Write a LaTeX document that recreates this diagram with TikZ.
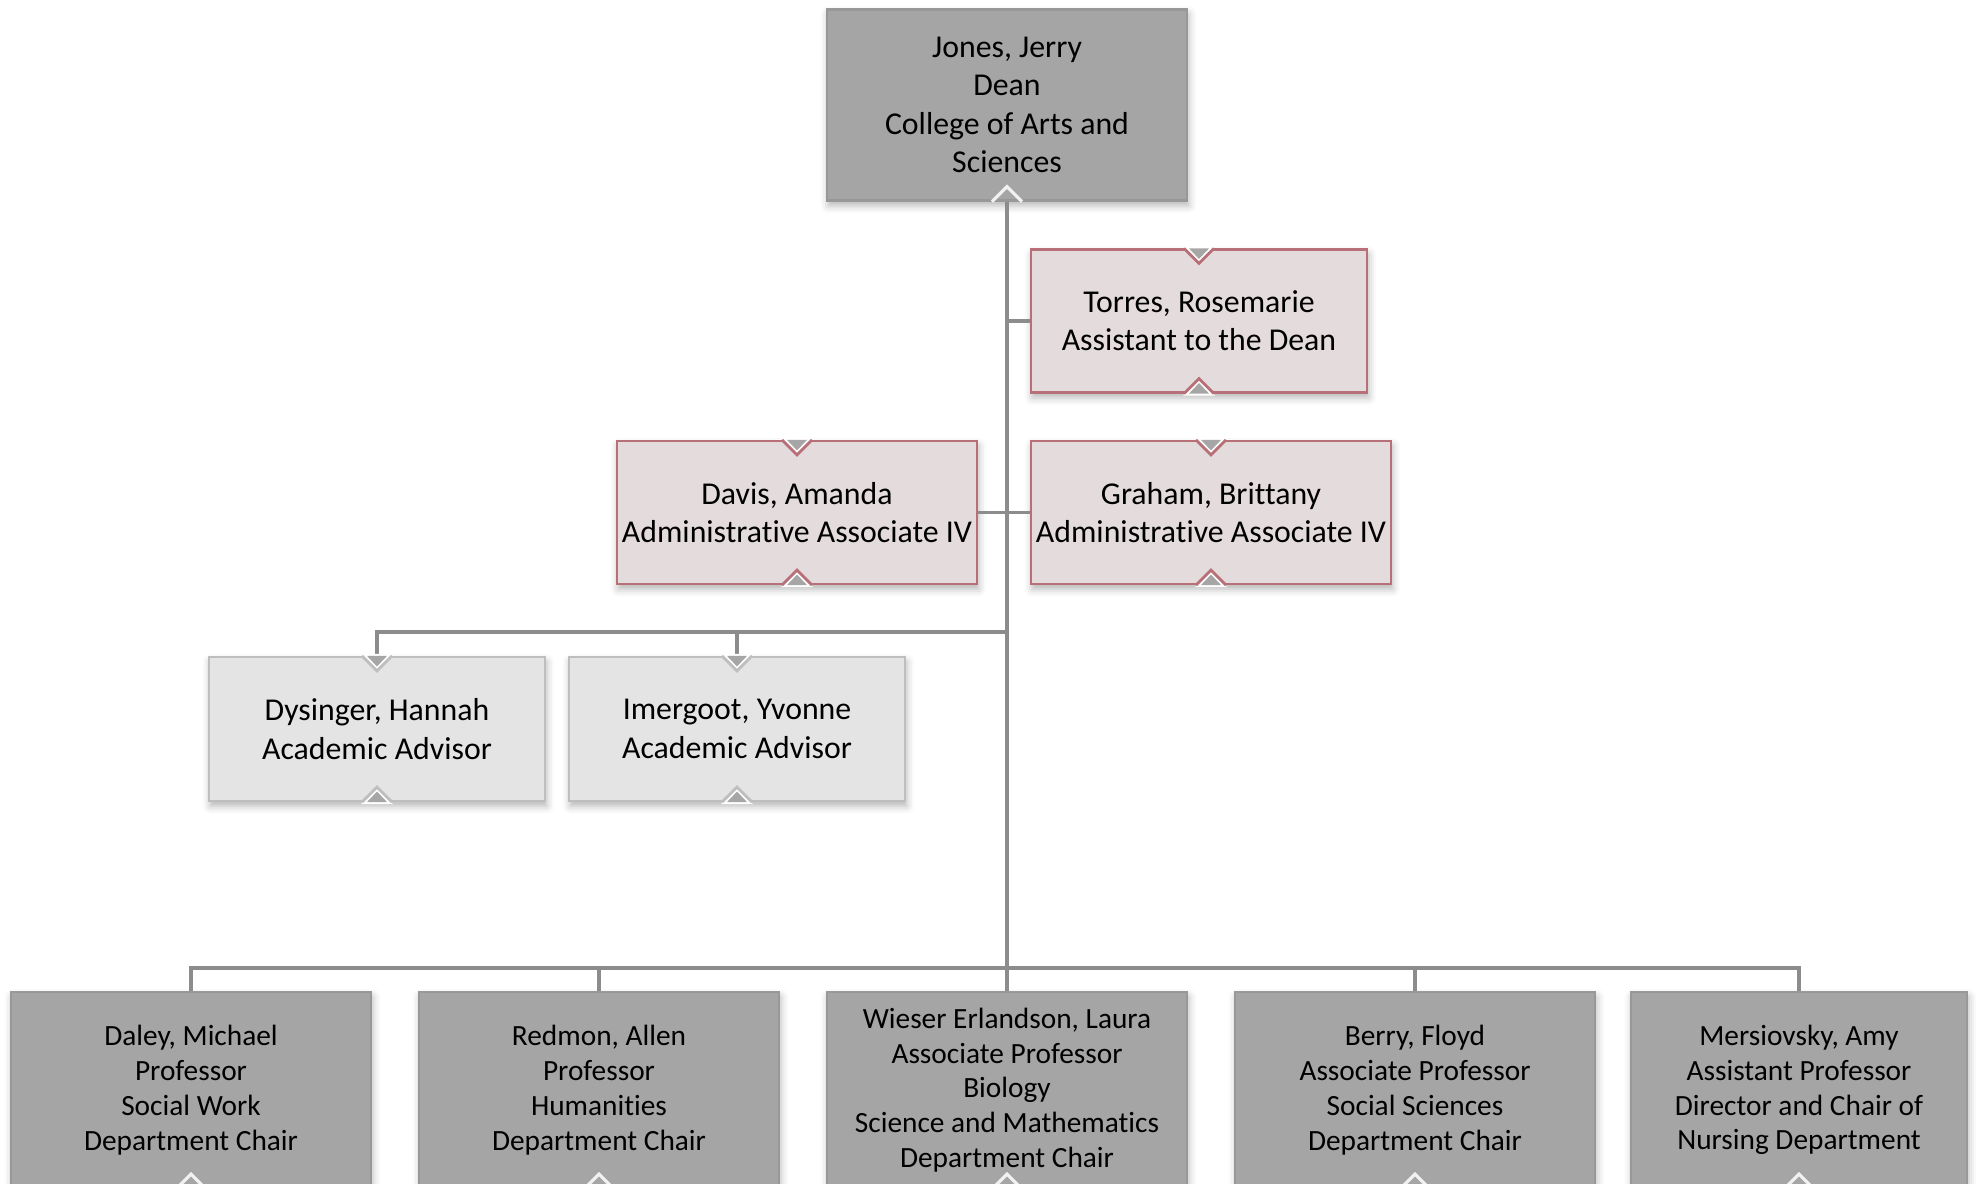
\documentclass[tikz,border=0pt]{standalone}
\usepackage{fontspec}
\setmainfont{Carlito}[Ligatures=NoCommon]
\usetikzlibrary{calc,shadows.blur}

\definecolor{deanfill}{RGB}{165,165,165}
\definecolor{deanline}{RGB}{152,152,152}
\definecolor{staffill}{RGB}{228,220,220}
\definecolor{staffline}{RGB}{184,112,120}
\definecolor{advfill}{RGB}{228,228,228}
\definecolor{advline}{RGB}{190,190,190}
\definecolor{connline}{RGB}{140,140,140}
\definecolor{notchgray}{RGB}{166,166,166}

% V cut in the top edge of a box
\newcommand{\notchtop}[2]{%
  \fill[white] ($(#1.north)+(-0.16,0.02)$) -- ($(#1.north)+(0.16,0.02)$) -- ($(#1.north)+(0,-0.15)$) -- cycle;
  \draw[#2, line width=0.8pt] ($(#1.north)+(-0.15,0)$) -- ($(#1.north)+(0,-0.15)$) -- ($(#1.north)+(0.15,0)$);
  \fill[notchgray] ($(#1.north)+(-0.10,0)$) -- ($(#1.north)+(0.10,0)$) -- ($(#1.north)+(0,-0.105)$) -- cycle;
}
% caret cut in the bottom edge of a box
\newcommand{\notchbot}[2]{%
  \fill[white] ($(#1.south)+(-0.16,-0.02)$) -- ($(#1.south)+(0.16,-0.02)$) -- ($(#1.south)+(0,0.15)$) -- cycle;
  \draw[#2, line width=0.8pt] ($(#1.south)+(-0.15,0)$) -- ($(#1.south)+(0,0.15)$) -- ($(#1.south)+(0.15,0)$);
  \fill[notchgray] ($(#1.south)+(-0.10,0)$) -- ($(#1.south)+(0.10,0)$) -- ($(#1.south)+(0,0.105)$) -- cycle;
}
% light caret only
\newcommand{\chevbot}[1]{%
  \draw[white!85!deanfill, line width=0.9pt] ($(#1.south)+(-0.15,0)$) -- ($(#1.south)+(0,0.15)$) -- ($(#1.south)+(0.15,0)$);
}

\begin{document}
\begin{tikzpicture}[
    box/.style={rectangle, inner sep=0pt, align=center, line width=0.6pt,
      blur shadow={shadow xshift=0.4pt, shadow yshift=-1.4pt, shadow blur radius=2.2pt, shadow opacity=30}},
    dean/.style={box, fill=deanfill, draw=deanline, minimum width=3.6cm, minimum height=1.91cm,
      font=\fontsize{9.05}{10.9}\selectfont},
    staff/.style={box, fill=staffill, draw=staffline, minimum height=1.43cm,
      font=\fontsize{9.05}{10.9}\selectfont},
    adv/.style={box, fill=advfill, draw=advline, minimum width=3.36cm, minimum height=1.44cm,
      font=\fontsize{9.05}{10.9}\selectfont},
    chair/.style={box, fill=deanfill, draw=deanline, minimum height=1.96cm,
      font=\fontsize{8.35}{9.9}\selectfont},
    conn/.style={draw=connline, line width=1.1pt}
  ]

\useasboundingbox (0,0) rectangle (19.77,-11.84);
\clip (0,0) rectangle (19.77,-11.84);

% boxes
\node[dean] (jones) at (10.07,-1.05) {Jones, Jerry\\Dean\\College of Arts and\\Sciences};

\node[staff, minimum width=3.36cm] (torres) at (11.99,-3.21) {Torres, Rosemarie\\Assistant to the Dean};
\node[staff, minimum width=3.6cm] (davis) at (7.97,-5.125) {Davis, Amanda\\Administrative Associate IV};
\node[staff, minimum width=3.6cm] (graham) at (12.11,-5.125) {Graham, Brittany\\Administrative Associate IV};

\node[adv] (dysinger) at (3.77,-7.29) {Dysinger, Hannah\\Academic Advisor};
\node[adv] (imergoot) at (7.37,-7.29) {Imergoot, Yvonne\\Academic Advisor};

\node[chair, minimum width=3.6cm] (daley) at (1.91,-10.9) {Daley, Michael\\Professor\\Social Work\\Department Chair};
\node[chair, minimum width=3.6cm] (redmon) at (5.99,-10.9) {Redmon, Allen\\Professor\\Humanities\\Department Chair};
\node[chair, minimum width=3.6cm] (wieser) at (10.07,-10.9) {Wieser Erlandson, Laura\\Associate Professor\\Biology\\Science and Mathematics\\Department Chair};
\node[chair, minimum width=3.6cm] (berry) at (14.15,-10.9) {Berry, Floyd\\Associate Professor\\Social Sciences\\Department Chair};
\node[chair, minimum width=3.36cm] (mersiovsky) at (17.99,-10.9) {Mersiovsky, Amy\\Assistant Professor\\Director and Chair of\\Nursing Department};

\coordinate (advbar) at (10.07,-6.32);
\coordinate (deptbar) at (10.07,-9.68);

% connectors
\draw[conn] (jones.south) -- (deptbar);
\draw[conn] (jones.south |- torres.west) -- (torres.west);
\draw[conn] (davis.east) -- (graham.west);
\draw[conn] (dysinger.north) |- (advbar);
\draw[conn] (advbar -| imergoot.north) -- (imergoot.north);
\draw[conn] (daley.north) |- (deptbar) -| (mersiovsky.north);
\foreach \n in {redmon,wieser,berry}
  \draw[conn] (deptbar -| \n.north) -- (\n.north);

% notches
\chevbot{jones}
\foreach \n in {torres,davis,graham} {
  \notchtop{\n}{staffline}
  \notchbot{\n}{staffline}
}
\foreach \n in {dysinger,imergoot} {
  \notchtop{\n}{advline}
  \notchbot{\n}{advline}
}
\foreach \n in {daley,redmon,wieser,berry,mersiovsky} {
  \chevbot{\n}
}

\end{tikzpicture}
\end{document}
